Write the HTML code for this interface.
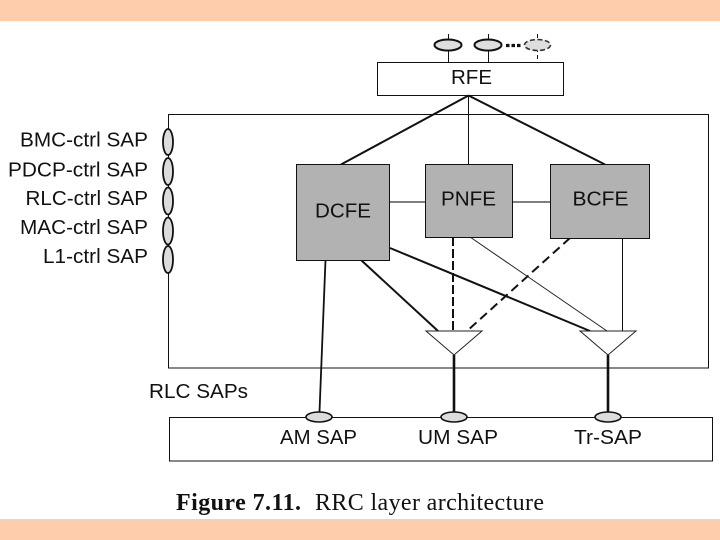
<!DOCTYPE html>
<html>
<head>
<meta charset="utf-8">
<style>
html,body{margin:0;padding:0;background:#fff;width:720px;height:540px;overflow:hidden}
svg{display:block}
text{font-family:"Liberation Sans",sans-serif;font-size:20.5px;fill:#111}
.s{font-family:"Liberation Serif",serif;font-size:24px}
</style>
</head>
<body>
<svg width="720" height="540" viewBox="0 0 720 540" xmlns="http://www.w3.org/2000/svg">
<rect width="720" height="540" fill="#fff"/>
<rect x="0" y="0" width="720" height="21" fill="#fdcdac"/>
<rect x="0" y="519" width="720" height="21" fill="#fdcdac"/>

<!-- main boxes -->
<rect x="168.5" y="114.5" width="540" height="253.5" fill="none" stroke="#111" stroke-width="1"/>
<rect x="169.5" y="417.5" width="543" height="43.5" fill="#fff" stroke="#111" stroke-width="1"/>

<!-- RFE top connectors -->
<path d="M448.5 34V62M488.5 34V62" stroke="#111" stroke-width="1" fill="none"/>
<path d="M537.5 34V62" stroke="#111" stroke-width="1" stroke-dasharray="4 3" fill="none"/>
<ellipse cx="448" cy="45" rx="13.5" ry="5.5" fill="#dedede" stroke="#111" stroke-width="2"/>
<ellipse cx="488" cy="45" rx="13.5" ry="5.5" fill="#dedede" stroke="#111" stroke-width="2"/>
<ellipse cx="537.5" cy="45" rx="13" ry="5.5" fill="#dedede" stroke="#333" stroke-width="1.6" stroke-dasharray="5 2.5"/>
<path d="M506 45.5H521" stroke="#111" stroke-width="3.2" stroke-dasharray="3.5 2" fill="none"/>
<rect x="377.5" y="62.5" width="186" height="33" fill="#fff" stroke="#111" stroke-width="1"/>

<!-- RFE to entities -->
<path d="M468.5 95.5L341 164.5M468.5 95.5L605 164.5" stroke="#111" stroke-width="2" fill="none"/>
<path d="M468.5 95.5V164.5" stroke="#111" stroke-width="1" fill="none"/>

<!-- connector lines -->
<path d="M389 202H425M512 202H550" stroke="#555" stroke-width="1.6" fill="none"/>
<path d="M325.5 260L319.5 412" stroke="#111" stroke-width="1.8" fill="none"/>
<path d="M361 260L438 331" stroke="#111" stroke-width="2" fill="none"/>
<path d="M390 248L590 331" stroke="#111" stroke-width="2" fill="none"/>
<path d="M453 237V331" stroke="#111" stroke-width="2" stroke-dasharray="9 3" fill="none"/>
<path d="M570 238L467 331" stroke="#111" stroke-width="2" stroke-dasharray="9 5" fill="none"/>
<path d="M470 237L607 331" stroke="#222" stroke-width="1" fill="none"/>
<path d="M622.5 238V331" stroke="#111" stroke-width="1" fill="none"/>

<!-- entity boxes -->
<rect x="296.5" y="164.5" width="93" height="96" fill="#b2b2b2" stroke="#111" stroke-width="1"/>
<rect x="425.5" y="164.5" width="87" height="73" fill="#b2b2b2" stroke="#111" stroke-width="1"/>
<rect x="550.5" y="164.5" width="99" height="74" fill="#b2b2b2" stroke="#111" stroke-width="1"/>

<!-- triangles -->
<path d="M426 331H482L454 355Z" fill="#fff" stroke="#222" stroke-width="1"/>
<path d="M580 331H636L608 355Z" fill="#fff" stroke="#222" stroke-width="1"/>
<path d="M454 355V412M608 355V412" stroke="#111" stroke-width="2.6" fill="none"/>

<!-- bottom SAPs -->
<ellipse cx="319" cy="417" rx="13" ry="5" fill="#dcdcdc" stroke="#111" stroke-width="1.6"/>
<ellipse cx="454" cy="417" rx="13" ry="5" fill="#dcdcdc" stroke="#111" stroke-width="1.6"/>
<ellipse cx="608" cy="417" rx="13" ry="5" fill="#dcdcdc" stroke="#111" stroke-width="1.6"/>

<!-- left SAP ellipses -->
<ellipse cx="168" cy="142" rx="5" ry="13" fill="#dcdcdc" stroke="#111" stroke-width="1.8"/>
<ellipse cx="168" cy="171.5" rx="5" ry="13.5" fill="#dcdcdc" stroke="#111" stroke-width="1.8"/>
<ellipse cx="168" cy="201" rx="5" ry="13.5" fill="#dcdcdc" stroke="#111" stroke-width="1.8"/>
<ellipse cx="168" cy="231" rx="5" ry="13.5" fill="#dcdcdc" stroke="#111" stroke-width="1.8"/>
<ellipse cx="168" cy="259.5" rx="5" ry="13.5" fill="#dcdcdc" stroke="#111" stroke-width="1.8"/>

<!-- labels -->
<text x="451" y="84" textLength="41" lengthAdjust="spacingAndGlyphs">RFE</text>
<text x="315" y="217.5" textLength="56" lengthAdjust="spacingAndGlyphs">DCFE</text>
<text x="441" y="205.5" textLength="55" lengthAdjust="spacingAndGlyphs">PNFE</text>
<text x="572.5" y="205.5" textLength="56" lengthAdjust="spacingAndGlyphs">BCFE</text>

<text x="20" y="146.5" textLength="128" lengthAdjust="spacingAndGlyphs">BMC-ctrl SAP</text>
<text x="8" y="176.5" textLength="140" lengthAdjust="spacingAndGlyphs">PDCP-ctrl SAP</text>
<text x="25.5" y="205" textLength="122.5" lengthAdjust="spacingAndGlyphs">RLC-ctrl SAP</text>
<text x="20" y="234" textLength="128" lengthAdjust="spacingAndGlyphs">MAC-ctrl SAP</text>
<text x="43" y="263" textLength="105" lengthAdjust="spacingAndGlyphs">L1-ctrl SAP</text>

<text x="149" y="398" textLength="99" lengthAdjust="spacingAndGlyphs">RLC SAPs</text>
<text x="280" y="444" textLength="77" lengthAdjust="spacingAndGlyphs">AM SAP</text>
<text x="418" y="444" textLength="80" lengthAdjust="spacingAndGlyphs">UM SAP</text>
<text x="574" y="444" textLength="68" lengthAdjust="spacingAndGlyphs">Tr-SAP</text>

<text class="s" x="176" y="510" font-weight="bold" textLength="125" lengthAdjust="spacing">Figure 7.11.</text>
<text class="s" x="315" y="510" textLength="229" lengthAdjust="spacing">RRC layer architecture</text>
</svg>
</body>
</html>
